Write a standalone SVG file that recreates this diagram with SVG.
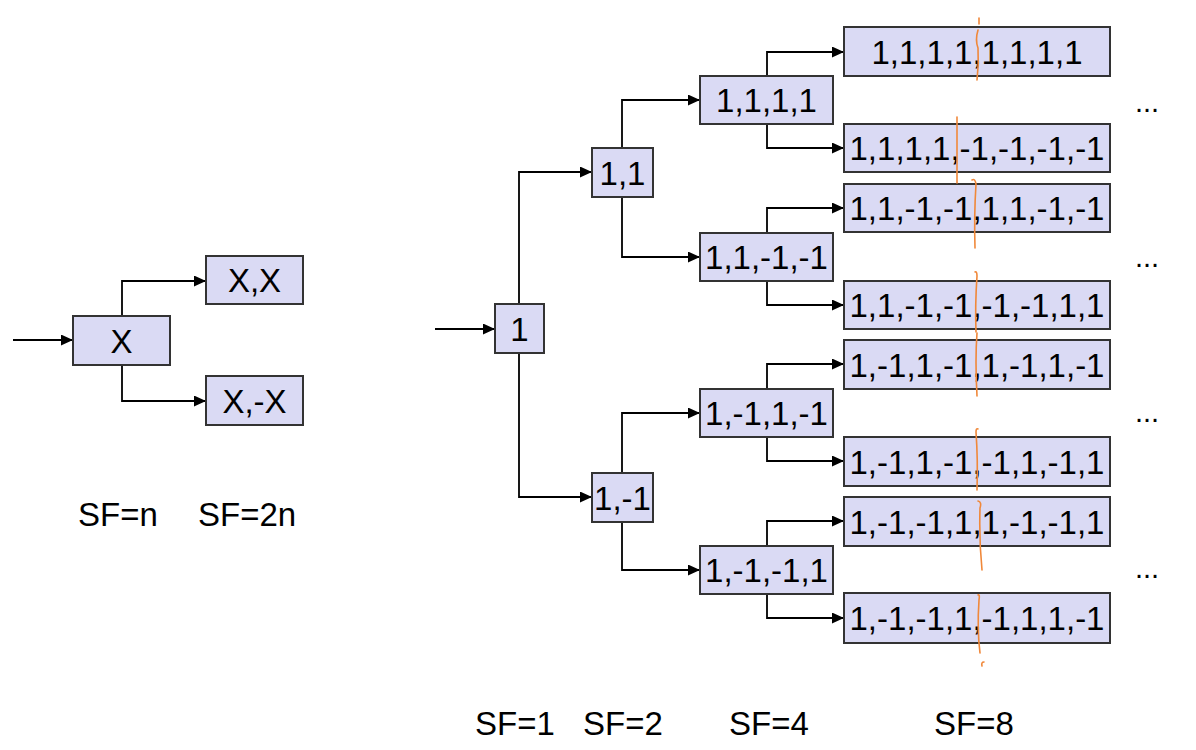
<svg xmlns="http://www.w3.org/2000/svg" width="1196" height="750" viewBox="0 0 1196 750">
<defs>
<marker id="ah" viewBox="0 0 12 11" refX="12" refY="5.5" markerWidth="12" markerHeight="11" markerUnits="userSpaceOnUse" orient="auto">
<path d="M0,0 L12,5.5 L0,11 z" fill="#000"/>
</marker>
<style>
.box{fill:#dadaf4;stroke:#333;stroke-width:2}
.t{font-family:"Liberation Sans",Arial,sans-serif;font-size:33px;fill:#000;text-anchor:middle}
.lbl{font-family:"Liberation Sans",Arial,sans-serif;font-size:29px;fill:#000}
.lbl2{font-family:"Liberation Sans",Arial,sans-serif;font-size:33px;fill:#000}
.c{fill:none;stroke:#000;stroke-width:1.8}
.o{fill:none;stroke:#f0883a;stroke-width:1.6;stroke-linecap:round}
</style>
</defs>
<rect width="1196" height="750" fill="#fff"/>

<g id="connectors">
<path class="c" d="M13,340 H73" marker-end="url(#ah)"/>
<path class="c" d="M122,316 V281 H206" marker-end="url(#ah)"/>
<path class="c" d="M122,365 V401 H206" marker-end="url(#ah)"/>

<path class="c" d="M435,329 H495" marker-end="url(#ah)"/>
<path class="c" d="M519,304 V172 H592" marker-end="url(#ah)"/>
<path class="c" d="M519,353 V497 H592" marker-end="url(#ah)"/>

<path class="c" d="M622,148 V100 H700" marker-end="url(#ah)"/>
<path class="c" d="M622,197 V257 H700" marker-end="url(#ah)"/>
<path class="c" d="M622,473 V413 H700" marker-end="url(#ah)"/>
<path class="c" d="M622,522 V570 H700" marker-end="url(#ah)"/>

<path class="c" d="M767,76 V52 H844" marker-end="url(#ah)"/>
<path class="c" d="M767,124 V148 H844" marker-end="url(#ah)"/>
<path class="c" d="M767,233 V208 H844" marker-end="url(#ah)"/>
<path class="c" d="M767,281 V305 H844" marker-end="url(#ah)"/>
<path class="c" d="M767,389 V364 H844" marker-end="url(#ah)"/>
<path class="c" d="M767,437 V461 H844" marker-end="url(#ah)"/>
<path class="c" d="M767,546 V521 H844" marker-end="url(#ah)"/>
<path class="c" d="M767,594 V618 H844" marker-end="url(#ah)"/>
</g>

<g id="nodeX"><rect class="box" x="73" y="316" width="97" height="49"/><text class="t" x="121.5" y="352.5">X</text></g>
<g id="nodeXX"><rect class="box" x="206" y="256" width="97" height="48"/><text class="t" x="254.5" y="292">X,X</text></g>
<g id="nodeXmX"><rect class="box" x="206" y="376" width="97" height="49"/><text class="t" x="254.5" y="412.5">X,-X</text></g>

<g id="n1"><rect class="box" x="495" y="304" width="49" height="49"/><text class="t" x="519.5" y="340.5">1</text></g>
<g id="n11"><rect class="box" x="592" y="148" width="61" height="49"/><text class="t" x="622.5" y="184.5">1,1</text></g>
<g id="n1m1"><rect class="box" x="592" y="473" width="61" height="49"/><text class="t" x="622.5" y="509.5">1,-1</text></g>

<g id="n1111"><rect class="box" x="700" y="76" width="133" height="48"/><text class="t" x="766.5" y="112">1,1,1,1</text></g>
<g id="n11m1m1"><rect class="box" x="700" y="233" width="133" height="48"/><text class="t" x="766.5" y="269">1,1,-1,-1</text></g>
<g id="n1m11m1"><rect class="box" x="700" y="389" width="133" height="48"/><text class="t" x="766.5" y="425">1,-1,1,-1</text></g>
<g id="n1m1m11"><rect class="box" x="700" y="546" width="133" height="48"/><text class="t" x="766.5" y="582">1,-1,-1,1</text></g>

<g id="s8a"><rect class="box" x="844" y="27" width="266" height="49"/><text class="t" x="977" y="63.5">1,1,1,1,1,1,1,1</text></g>
<g id="s8b"><rect class="box" x="844" y="124" width="266" height="48"/><text class="t" x="977" y="160">1,1,1,1,-1,-1,-1,-1</text></g>
<g id="s8c"><rect class="box" x="844" y="184" width="266" height="48"/><text class="t" x="977" y="220">1,1,-1,-1,1,1,-1,-1</text></g>
<g id="s8d"><rect class="box" x="844" y="281" width="266" height="48"/><text class="t" x="977" y="317">1,1,-1,-1,-1,-1,1,1</text></g>
<g id="s8e"><rect class="box" x="844" y="340" width="266" height="49"/><text class="t" x="977" y="376.5">1,-1,1,-1,1,-1,1,-1</text></g>
<g id="s8f"><rect class="box" x="844" y="437" width="266" height="49"/><text class="t" x="977" y="473.5">1,-1,1,-1,-1,1,-1,1</text></g>
<g id="s8g"><rect class="box" x="844" y="497" width="266" height="49"/><text class="t" x="977" y="533.5">1,-1,-1,1,1,-1,-1,1</text></g>
<g id="s8h"><rect class="box" x="844" y="593" width="266" height="50"/><text class="t" x="977" y="630">1,-1,-1,1,-1,1,1,-1</text></g>

<g id="dots">
<text class="lbl" x="1135" y="112">...</text>
<text class="lbl" x="1135" y="267">...</text>
<text class="lbl" x="1135" y="422">...</text>
<text class="lbl" x="1135" y="578">...</text>
</g>

<g id="labels">
<text class="lbl2" x="78" y="526">SF=n</text>
<text class="lbl2" x="198" y="526">SF=2n</text>
<text class="lbl2" x="475" y="735">SF=1</text>
<text class="lbl2" x="583" y="735">SF=2</text>
<text class="lbl2" x="729" y="735">SF=4</text>
<text class="lbl2" x="934" y="735">SF=8</text>
</g>

<g id="annotations">
<path class="o" d="M979,18 V24 M978,30 Q975,40 978,48 Q979,64 977,80"/>
<path class="o" d="M957,117 V183"/>
<path class="o" d="M972,180 Q975,178 976,184 Q974,215 975,248"/>
<path class="o" d="M975,272 Q977,271 977,276 Q975,305 976,332"/>
<path class="o" d="M977,333 Q975,360 977,396"/>
<path class="o" d="M978,429 Q976,428 976,432 Q978,460 977,490"/>
<path class="o" d="M978,501 Q982,502 980,508 Q979,540 982,570"/>
<path class="o" d="M978,595 Q980,594 979,600 Q977,630 980,653"/>
<path class="o" d="M982,666 Q981,662 984,662"/>
</g>
</svg>
